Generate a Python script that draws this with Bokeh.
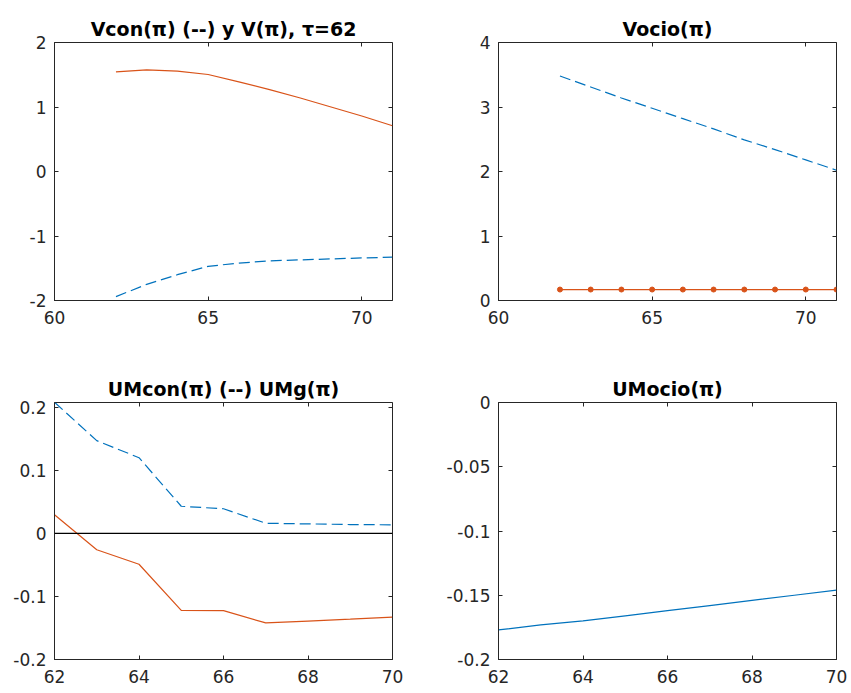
from bokeh.plotting import figure
from bokeh.layouts import gridplot
from bokeh.models import Range1d, FixedTicker, LinearAxis, Span, CustomLabelingPolicy
from bokeh.embed import file_html
from bokeh.resources import INLINE

# ---- data -------------------------------------------------------------
ages_a = [62, 63, 64, 65, 66, 67, 68, 69, 70, 71]
v_total = [1.546, 1.577, 1.555, 1.504, 1.39, 1.27, 1.14, 1.00, 0.86, 0.71]
v_con = [-1.94, -1.75, -1.60, -1.47, -1.42, -1.385, -1.37, -1.355, -1.34, -1.328]
v_ocio_dash = [3.48, 3.31, 3.14, 2.98, 2.82, 2.66, 2.49, 2.34, 2.18, 2.02]
v_ocio_dots = [0.17, 0.17, 0.17, 0.17, 0.17, 0.17, 0.17, 0.17, 0.17, 0.17]

ages_b = [62, 63, 64, 65, 66, 67, 68, 69, 70]
um_con = [0.208, 0.147, 0.12, 0.043, 0.039, 0.016, 0.015, 0.014, 0.0135]
um_g = [0.0295, -0.026, -0.049, -0.122, -0.1225, -0.142, -0.139, -0.136, -0.1328]
um_ocio = [-0.177, -0.173, -0.170, -0.166, -0.162, -0.158, -0.154, -0.150, -0.146]

titles = ["Vcon(π) (--) y V(π), τ=62", "Vocio(π)", "UMcon(π) (--) UMg(π)", "UMocio(π)"]

xticks_top = [60, 65, 70]
xlabels_top = ["60", "65", "70"]
xticks_bot = [62, 64, 66, 68, 70]
xlabels_bot = ["62", "64", "66", "68", "70"]
yticks_a = [-2, -1, 0, 1, 2]
ylabels_a = ["-2", "-1", "0", "1", "2"]
yticks_b = [0, 1, 2, 3, 4]
ylabels_b = ["0", "1", "2", "3", "4"]
yticks_c = [-0.2, -0.1, 0, 0.1, 0.2]
ylabels_c = ["-0.2", "-0.1", "0", "0.1", "0.2"]
yticks_d = [-0.2, -0.15, -0.1, -0.05, 0]
ylabels_d = ["-0.2", "-0.15", "-0.1", "-0.05", "0"]

BLUE = "#0072BD"
ORANGE = "#D95319"
AX = "#262626"
FONT = "DejaVu Sans"
DASH = "11 5"

# labeling policy that keeps no labels: used for the tick-only mirror axes
NO_LABELS = "const all = Array.from(indices); for (const i of all) indices.unset(i); return indices"


def make_panel(title, xr, yr, xt, xl, yt, yl, width, height, borders):
    left, right, top, bottom = borders
    p = figure(width=width, height=height, x_range=Range1d(*xr), y_range=Range1d(*yr),
               output_backend="svg", toolbar_location=None,
               min_border_left=left, min_border_right=right,
               min_border_top=top, min_border_bottom=bottom,
               background_fill_color="white", border_fill_color="white")
    p.outline_line_color = AX
    p.outline_line_width = 1
    p.xgrid.visible = False
    p.ygrid.visible = False

    p.title.text = title
    p.title.align = "center"
    p.title.text_font = FONT
    p.title.text_font_style = "bold"
    p.title.text_font_size = "19px"
    p.title.text_color = "black"
    p.title.standoff = 6

    # mirrored tick-only axes pinned to the top and right edges of the frame
    p.add_layout(LinearAxis(fixed_location=yr[1]), "above")
    p.add_layout(LinearAxis(fixed_location=xr[1]), "right")

    for ax in p.xaxis:
        ax.ticker = FixedTicker(ticks=xt)
    for ax in p.yaxis:
        ax.ticker = FixedTicker(ticks=yt)
    for ax in p.axis:
        ax.axis_line_color = AX
        ax.major_tick_line_color = AX
        ax.major_tick_in = 4
        ax.major_tick_out = 0
        ax.minor_tick_line_color = None
        ax.major_label_text_font = FONT
        ax.major_label_text_font_size = "17px"
        ax.major_label_text_color = AX

    p.below[0].major_label_overrides = dict(zip(xt, xl))
    p.below[0].major_label_standoff = 10
    p.left[0].major_label_overrides = dict(zip(yt, yl))
    p.left[0].major_label_standoff = 8
    for ax in (p.above[0], p.right[0]):
        ax.major_label_policy = CustomLabelingPolicy(code=NO_LABELS)
        ax.major_label_standoff = 0
    return p


p1 = make_panel(titles[0], (60, 71), (-2, 2), xticks_top, xlabels_top, yticks_a, ylabels_a,
                425, 350, (54, 33, 42, 50))
p1.line(ages_a, v_total, line_color=ORANGE, line_width=1.2)
p1.line(ages_a, v_con, line_color=BLUE, line_width=1.2, line_dash=DASH)

p2 = make_panel(titles[1], (60, 71), (0, 4), xticks_top, xlabels_top, yticks_b, ylabels_b,
                426, 350, (73, 15, 42, 50))
p2.line(ages_a, v_ocio_dash, line_color=BLUE, line_width=1.2, line_dash=DASH)
p2.line(ages_a, v_ocio_dots, line_color=ORANGE, line_width=1.2)
p2.scatter(ages_a, v_ocio_dots, size=5, color=ORANGE)

p3 = make_panel(titles[2], (62, 70), (-0.2, 0.2075), xticks_bot, xlabels_bot, yticks_c, ylabels_c,
                425, 343, (54, 33, 52, 34))
p3.add_layout(Span(location=0, dimension="width", line_color="black", line_width=1.2))
p3.line(ages_b, um_con, line_color=BLUE, line_width=1.2, line_dash=DASH)
p3.line(ages_b, um_g, line_color=ORANGE, line_width=1.2)

p4 = make_panel(titles[3], (62, 70), (-0.2, 0), xticks_bot, xlabels_bot, yticks_d, ylabels_d,
                426, 343, (73, 15, 52, 34))
p4.line(ages_b, um_ocio, line_color=BLUE, line_width=1.2)

grid = gridplot([[p1, p2], [p3, p4]], toolbar_location=None)

open("out.html", "w").write(file_html(grid, INLINE))
